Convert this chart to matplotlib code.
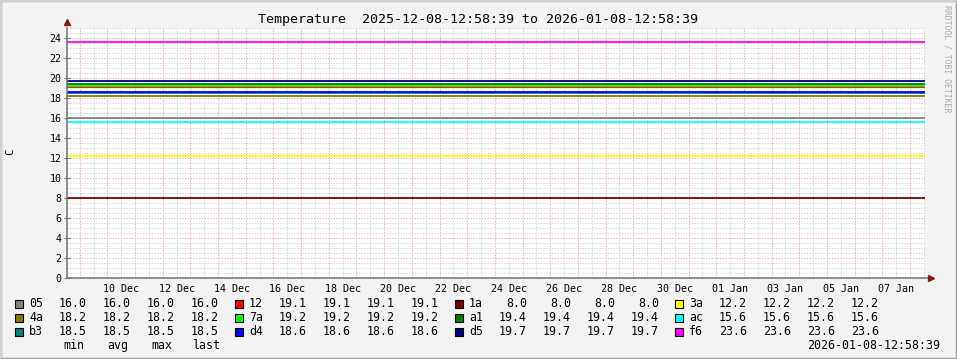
import matplotlib
matplotlib.use('Agg')
import matplotlib.pyplot as plt
import matplotlib.dates as mdates
from matplotlib.patches import Rectangle
from datetime import datetime, timedelta

# series (constant over the whole period)
names = ['05', '12', '1a', '3a', '4a', '7a', 'a1', 'ac', 'b3', 'd4', 'd5', 'f6']
values = [16.0, 19.1, 8.0, 12.2, 18.2, 19.2, 19.4, 15.6, 18.5, 18.6, 19.7, 23.6]
colors = ['#808080', '#FF0000', '#800000', '#FFFF00', '#808000', '#00FF00',
          '#008000', '#00FFFF', '#008080', '#0000FF', '#000080', '#FF00FF']
# legend layout: rows of 4 entries
legend_order = [['05', '12', '1a', '3a'],
                ['4a', '7a', 'a1', 'ac'],
                ['b3', 'd4', 'd5', 'f6']]
stat_labels = ['min', 'avg', 'max', 'last']

t_start = datetime(2025, 12, 8, 12, 58, 39)
t_end = datetime(2026, 1, 8, 12, 58, 39)
y_max = 25

W, H = 957, 359
plt.rcParams['font.family'] = 'DejaVu Sans Mono'


def fx(x):
    return x / W


def fy(y):
    return 1 - y / H


fig = plt.figure(figsize=(W / 100, H / 100), dpi=100, facecolor='#F3F3F3')

# 3d frame
fig.add_artist(Rectangle((0, 0), 1, 1, transform=fig.transFigure, fill=False,
                         edgecolor='#9E9E9E', lw=2.5))
fig.add_artist(Rectangle((0, 0), 2 / W, 1, transform=fig.transFigure, color='#CFCFCF', lw=0))
fig.add_artist(Rectangle((0, 1 - 2 / H), 1, 2 / H, transform=fig.transFigure, color='#CFCFCF', lw=0))

left, right, top, bottom = 67, 925, 28, 278
ax = fig.add_axes([fx(left), fy(bottom), fx(right - left), (bottom - top) / H])
ax.set_facecolor('white')
ax.set_xlim(t_start, t_end)
ax.set_ylim(0, y_max)

# grid
grid_kw = dict(lw=0.72, ls=(0, (1.4, 1.4)), zorder=1)
major_c, minor_c = '#F5AFAF', '#D6D6D6'
for i in range(0, y_max * 2 + 1):
    ax.axhline(i / 2, color=major_c if i % 4 == 0 else minor_c, **grid_kw)
t = datetime(2025, 12, 8, 12)
while t < t_end:
    if t > t_start:
        ax.axvline(t, color=major_c if t.hour == 0 else minor_c, **grid_kw)
    t += timedelta(hours=12)

# data lines
for name, v, c in zip(names, values, colors):
    ax.plot([t_start, t_end], [v, v], color=c, lw=1.3, zorder=3, solid_capstyle='butt')

# axes
for s in ['top', 'right']:
    ax.spines[s].set_visible(False)
for s in ['left', 'bottom']:
    ax.spines[s].set_color('#707070')
    ax.spines[s].set_linewidth(1.1)
    ax.spines[s].set_zorder(4)
ax.spines['bottom'].set_bounds(mdates.date2num(t_start), mdates.date2num(t_end) + 0.08)
ax.spines['left'].set_bounds(0, y_max)
ax.plot([1.0 + 6 / (right - left)], [0], marker='>', ms=5, color='#8B1A1A',
        transform=ax.transAxes, clip_on=False, zorder=5)
ax.plot([0], [1.0 + 6 / (bottom - top)], marker='^', ms=5, color='#8B1A1A',
        transform=ax.transAxes, clip_on=False, zorder=5)

ax.set_yticks(range(0, y_max, 2))
ax.tick_params(axis='y', length=4, width=0.8, color='#707070', direction='inout',
               labelsize=7.2, pad=2)
label_days = [datetime(2025, 12, 10, 12) + timedelta(days=2 * k) for k in range(15)]
ax.set_xticks(label_days)
ax.set_xticklabels([d.strftime('%d %b') for d in label_days])
ax.tick_params(axis='x', length=0, labelsize=7.2, pad=4)

fig.text(fx(10), fy(152), 'C', rotation=90, ha='center', va='center', fontsize=7.6)
fig.text(fx(478), fy(19), 'Temperature  2025-12-08-12:58:39 to 2026-01-08-12:58:39',
         ha='center', va='center', fontsize=9.6)
fig.text(fx(947), fy(5), 'RRDTOOL / TOBI OETIKER', rotation=270, ha='center', va='top',
         fontsize=5.9, color='#A8A8A8')

# legend
row_y = [303.5, 317.5, 331.5]
val_off = [72, 116, 160, 204]
for r, row in enumerate(legend_order):
    for c, name in enumerate(row):
        i = names.index(name)
        x0 = 15 + 220 * c
        yc = row_y[r]
        fig.add_artist(Rectangle((fx(x0), fy(yc + 4)), 8 / W, 8 / H, transform=fig.transFigure,
                                 facecolor=colors[i], edgecolor='black', lw=0.8))
        fig.text(fx(x0 + 14), fy(yc), name, ha='left', va='center', fontsize=8.4)
        for off in val_off:
            fig.text(fx(x0 + off), fy(yc), f'{values[i]:.1f}', ha='right', va='center',
                     fontsize=8.4)
for off, lab in zip(val_off, stat_labels):
    fig.text(fx(15 + off - 13), fy(345.5), lab, ha='center', va='center', fontsize=8.4)
fig.text(fx(940), fy(345.5), '2026-01-08-12:58:39', ha='right', va='center', fontsize=8.4)

fig.savefig('out.png', dpi=100, facecolor=fig.get_facecolor())
